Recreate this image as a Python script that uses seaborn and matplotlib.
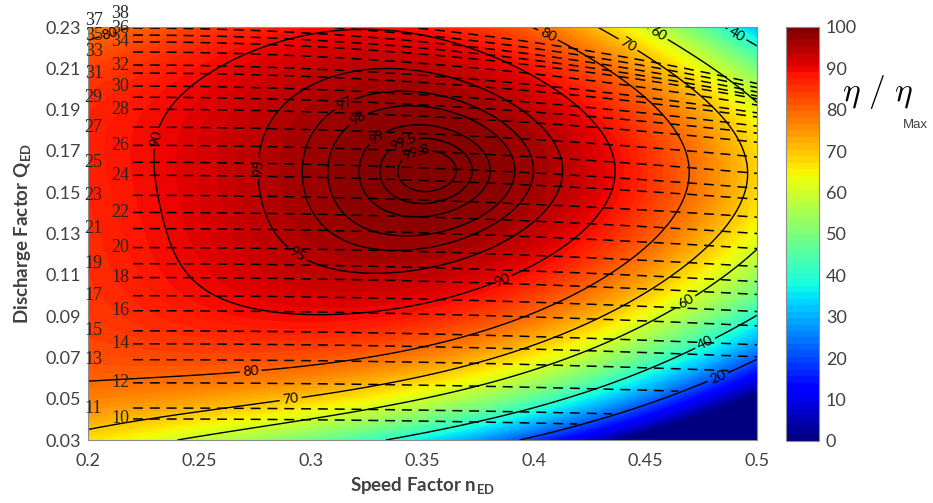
import numpy as np
import matplotlib
matplotlib.use("Agg")
import matplotlib.pyplot as plt
import seaborn as sns

# ── Data ────────────────────────────────────────────────────────────────────
# efficiency readings (eta/eta_max in %) taken along the iso-efficiency lines
pt_eta = [99.8] * 4 + [99.5] * 4 + [99] * 4 + [98] * 4 + [97] * 4 \
    + [95] * 6 + [90] * 12 + [80] * 16 + [70] * 12 + [60] * 10 \
    + [40] * 8 + [20] * 5 + [78, 36, 66, 87, 5, 8, -15]
pt_n = [0.3385, 0.3667, 0.3523, 0.3523,
        0.3299, 0.3724, 0.3510, 0.3523,
        0.3205, 0.3810, 0.3487, 0.3532,
        0.3071, 0.3891, 0.3465, 0.3541,
        0.2959, 0.3989, 0.3443, 0.3555,
        0.2771, 0.4123, 0.3398, 0.3577, 0.3044, 0.2941,
        0.2300, 0.2367, 0.2493, 0.3044, 0.3492, 0.3859, 0.4361, 0.4204, 0.3756, 0.3264, 0.2641, 0.2897,
        0.2000, 0.2730, 0.3196, 0.3644, 0.4016, 0.4294, 0.4518, 0.4652, 0.4684, 0.4630, 0.4473, 0.4249,
        0.4047, 0.2054, 0.2000, 0.2143,
        0.2000, 0.2910, 0.3398, 0.4025, 0.4460, 0.4742, 0.4899, 0.4921, 0.4899, 0.4742, 0.4415, 0.4294,
        0.2457, 0.2950, 0.3398, 0.4016, 0.4684, 0.5000, 0.4428, 0.4540, 0.4742, 0.5000,
        0.3447, 0.4025, 0.4383, 0.4755, 0.5000, 0.4908, 0.4831, 0.5000,
        0.3910, 0.4025, 0.4383, 0.4800, 0.5000,
        0.2000, 0.5000, 0.2000, 0.2000, 0.4339, 0.5000, 0.5000]
pt_q = [0.1603, 0.1603, 0.1680, 0.1526,
        0.1603, 0.1593, 0.1743, 0.1453,
        0.1603, 0.1584, 0.1826, 0.1380,
        0.1603, 0.1569, 0.1908, 0.1303,
        0.1603, 0.1559, 0.1985, 0.1230,
        0.1584, 0.1535, 0.2092, 0.1124, 0.2043, 0.1221,
        0.1463, 0.1850, 0.1075, 0.0921, 0.0964, 0.1066, 0.1608, 0.1947, 0.2237, 0.2271, 0.2140, 0.2237,
        0.0558, 0.0630, 0.0679, 0.0785, 0.0916, 0.1051, 0.1221, 0.1414, 0.1608, 0.1801, 0.1995, 0.2150,
        0.2227, 0.2247, 0.2213, 0.2300,
        0.0364, 0.0485, 0.0601, 0.0771, 0.0979, 0.1221, 0.1463, 0.1608, 0.1801, 0.2019, 0.2203, 0.2285,
        0.0301, 0.0398, 0.0500, 0.0640, 0.0964, 0.1100, 0.2300, 0.2237, 0.2116, 0.1913,
        0.0301, 0.0480, 0.0616, 0.0795, 0.0945, 0.2261, 0.2300, 0.2213,
        0.0301, 0.0349, 0.0470, 0.0664, 0.0770,
        0.2300, 0.2300, 0.0301, 0.1463, 0.0301, 0.0640, 0.0301]
peak_n, peak_q = 0.3523, 0.1603

eta_levels = [20, 40, 60, 70, 80, 90, 95, 97, 98, 99, 99.5, 99.8]
label_pos = [(0.3474, 0.1680), (0.3416, 0.1734), (0.3290, 0.1777), (0.3210, 0.1859),
             (0.3147, 0.1932), (0.2762, 0.1618), (0.2950, 0.1221), (0.2345, 0.1753),
             (0.3859, 0.1066), (0.2730, 0.0630), (0.4047, 0.2227), (0.2099, 0.2271),
             (0.2910, 0.0485), (0.4415, 0.2203), (0.4540, 0.2237), (0.4684, 0.0964),
             (0.4908, 0.2261), (0.4755, 0.0795), (0.4800, 0.0664)]

# guide vane opening lines: Q_ED where each line starts (n=0.22) and at n=0.5
opening = list(range(10, 39))
open_q_left = [0.0402, 0.0455, 0.0577, 0.0689, 0.0766, 0.0829, 0.0926, 0.0999, 0.1087,
               0.1154, 0.1232, 0.1324, 0.1402, 0.1485, 0.1582, 0.1645, 0.1727, 0.1815,
               0.1902, 0.1960, 0.2014, 0.2077, 0.2116, 0.2179, 0.2228, 0.2261, 0.2295,
               0.2330, 0.2365]
open_q_right = [0.0354, 0.0407, 0.0524, 0.0631, 0.0703, 0.0761, 0.0853, 0.0922, 0.1005,
                0.1067, 0.1140, 0.1227, 0.1300, 0.1379, 0.1466, 0.1519, 0.1591, 0.1670,
                0.1742, 0.1786, 0.1820, 0.1864, 0.1884, 0.1922, 0.1952, 0.1966, 0.1985,
                0.2006, 0.2026]

x_ticks = [0.2, 0.25, 0.3, 0.35, 0.4, 0.45, 0.5]
y_ticks = [0.03, 0.05, 0.07, 0.09, 0.11, 0.13, 0.15, 0.17, 0.19, 0.21, 0.23]

# ── Surface fit through the readings ───────────────────────────────────────
def basis(n, q):
    u = (np.asarray(n) - peak_n) / 0.15
    v = (np.asarray(q) - peak_q) / 0.1
    return np.stack([u**i * v**(k - i) for k in range(2, 6) for i in range(k + 1)], axis=-1)

d = 100 - np.array(pt_eta)
w = 1.0 / (np.abs(d) + 1.0)
A = basis(pt_n, pt_q)
coef = np.linalg.lstsq(A * w[:, None], d * w, rcond=None)[0]

def eta_at(n, q):
    return 100 - basis(n, q) @ coef

ng = np.linspace(0.2, 0.5, 400)
qg = np.linspace(0.03, 0.23, 300)
N, Q = np.meshgrid(ng, qg)
ETA = np.clip(eta_at(N, Q), -10, 100)

# ── Plot ────────────────────────────────────────────────────────────────────
sns.set_style("white")
plt.rcParams["font.family"] = ["Lato", "DejaVu Sans"]
plt.rcParams["mathtext.fontset"] = "cm"
grey = "#404040"

fig = plt.figure(figsize=(9.33, 5.03), dpi=100)
ax = fig.add_axes([0.0943, 0.1252, 0.7171, 0.8211])
cax = fig.add_axes([0.8424, 0.1233, 0.0354, 0.8231])

jet = plt.get_cmap("jet")
ax.contourf(N, Q, ETA, levels=np.linspace(0, 100, 101), cmap=jet, extend="min")
cs = ax.contour(N, Q, ETA, levels=eta_levels, colors="black", linewidths=1.0)
ax.clabel(cs, fmt=lambda v: f"{v:g}", fontsize=10, inline=True, inline_spacing=3,
          manual=label_pos)

# opening lines, dashed, cut where the efficiency drops too low
for k, a in enumerate(opening):
    nl = np.linspace(0.2202, 0.5, 500)
    frac = ((nl - 0.2202) / (0.5 - 0.2202)) ** 2
    ql = open_q_left[k] + (open_q_right[k] - open_q_left[k]) * frac
    ql = np.where(eta_at(nl, ql) < 21, np.nan, ql)
    ax.plot(nl, ql, color="black", lw=1.1, linestyle=(0, (6.5, 4.5)))
    if a % 2 == 0:
        ax.text(0.2185, open_q_left[k], str(a), ha="right", va="center",
                fontsize=13, family="Liberation Serif", clip_on=False)
    else:
        ax.text(0.1985, open_q_left[k], str(a), ha="left", va="center",
                fontsize=13, family="Liberation Serif", clip_on=False)

ax.set_xlim(0.2, 0.5)
ax.set_ylim(0.03, 0.23)
ax.set_xticks(x_ticks)
ax.set_xticklabels([f"{t:g}" for t in x_ticks])
ax.set_yticks(y_ticks)
ax.set_yticklabels([f"{t:.2f}" for t in y_ticks])
ax.tick_params(colors=grey, labelsize=13, direction="in", length=3)
ax.tick_params(axis="x", pad=9)
ax.tick_params(axis="y", pad=5)
for s in ax.spines.values():
    s.set_color("#8c8c8c")
ax.set_xlabel(r"Speed Factor n$_\mathregular{ED}$", fontsize=13.5, fontweight="bold",
              color=grey, labelpad=5)
ax.set_ylabel(r"Discharge Factor Q$_\mathregular{ED}$", fontsize=13.5, fontweight="bold",
              color=grey, labelpad=8)

sm = plt.cm.ScalarMappable(cmap=plt.get_cmap("jet", 64), norm=plt.Normalize(0, 100))
cb = fig.colorbar(sm, cax=cax, ticks=range(0, 101, 10))
cb.outline.set_edgecolor("#8c8c8c")
cax.tick_params(colors=grey, labelsize=13, direction="in", length=3, pad=5)
fig.text(0.902, 0.8, r"$\eta\ /\ \eta$", fontsize=24, color="black")
fig.text(0.968, 0.745, "Max", fontsize=9.5, color=grey, family="Liberation Sans")

fig.savefig("out.png", dpi=100)
